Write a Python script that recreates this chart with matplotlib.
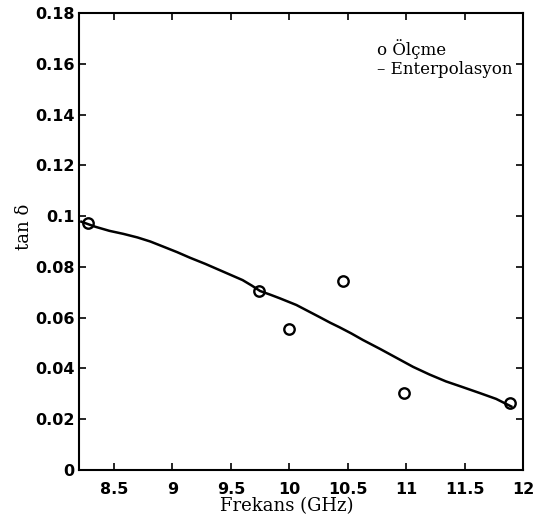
import matplotlib
matplotlib.use("Agg")
import matplotlib.pyplot as plt

# measured loss tangent
freq_meas = [8.28, 9.74, 10.0, 10.46, 10.98, 11.89]
tan_meas = [0.0973, 0.0705, 0.0556, 0.0745, 0.0305, 0.0265]

# interpolated curve samples
freq_fit = [8.22, 8.34, 8.46, 8.58, 8.70, 8.81, 8.92, 9.04, 9.15, 9.28,
            9.40, 9.50, 9.60, 9.68, 9.75, 9.84, 9.92, 10.06, 10.16, 10.26,
            10.35, 10.43, 10.53, 10.63, 10.78, 10.92, 11.06, 11.20, 11.34,
            11.48, 11.63, 11.77, 11.90]
tan_fit = [0.0978, 0.0958, 0.0942, 0.0930, 0.0916, 0.0900, 0.0880, 0.0858,
           0.0836, 0.0812, 0.0788, 0.0768, 0.0748, 0.0726, 0.0705, 0.0690,
           0.0676, 0.0650, 0.0626, 0.0602, 0.0580, 0.0562, 0.0538, 0.0512,
           0.0476, 0.0441, 0.0406, 0.0376, 0.0349, 0.0327, 0.0303, 0.0280,
           0.0250]

xticks = [8.5, 9, 9.5, 10, 10.5, 11, 11.5, 12]
yticks = [0, 0.02, 0.04, 0.06, 0.08, 0.1, 0.12, 0.14, 0.16, 0.18]

fig = plt.figure(figsize=(5.58, 5.25), dpi=100)
ax = fig.add_axes([0.1416, 0.1048, 0.7957, 0.8704])

ax.plot(freq_fit, tan_fit, color="black", lw=1.8)
ax.plot(freq_meas, tan_meas, linestyle="none", marker="o", ms=7.5,
        mfc="none", mec="black", mew=1.7)

ax.set_xlim(8.2, 12)
ax.set_ylim(0, 0.18)
ax.set_xticks(xticks)
ax.set_xticklabels([f"{v:g}" for v in xticks])
ax.set_yticks(yticks)
ax.set_yticklabels([f"{v:g}" for v in yticks])

for s in ax.spines.values():
    s.set_linewidth(1.5)
ax.tick_params(direction="in", length=5, width=1.2, top=True, right=True)
ax.tick_params(axis="x", pad=9)
ax.tick_params(axis="y", pad=3)
for lab in ax.get_xticklabels() + ax.get_yticklabels():
    lab.set_fontfamily("DejaVu Sans")
    lab.set_fontweight("bold")
    lab.set_fontsize(11.5)

fig.text(287 / 558, 1 - 506 / 525, "Frekans (GHz)", family="DejaVu Serif",
         fontsize=13, ha="center", va="center")
fig.text(24 / 558, 1 - 227 / 525, "tan δ", family="DejaVu Serif",
         fontsize=13, ha="center", va="center", rotation=90)

# legend written as plain text lines
fig.text(377 / 558, 1 - 49 / 525, "o Ölçme", family="DejaVu Serif",
         fontsize=12, ha="left", va="center")
fig.text(377 / 558, 1 - 70 / 525, "– Enterpolasyon", family="DejaVu Serif",
         fontsize=12, ha="left", va="center")

fig.savefig("out.png", dpi=100)
